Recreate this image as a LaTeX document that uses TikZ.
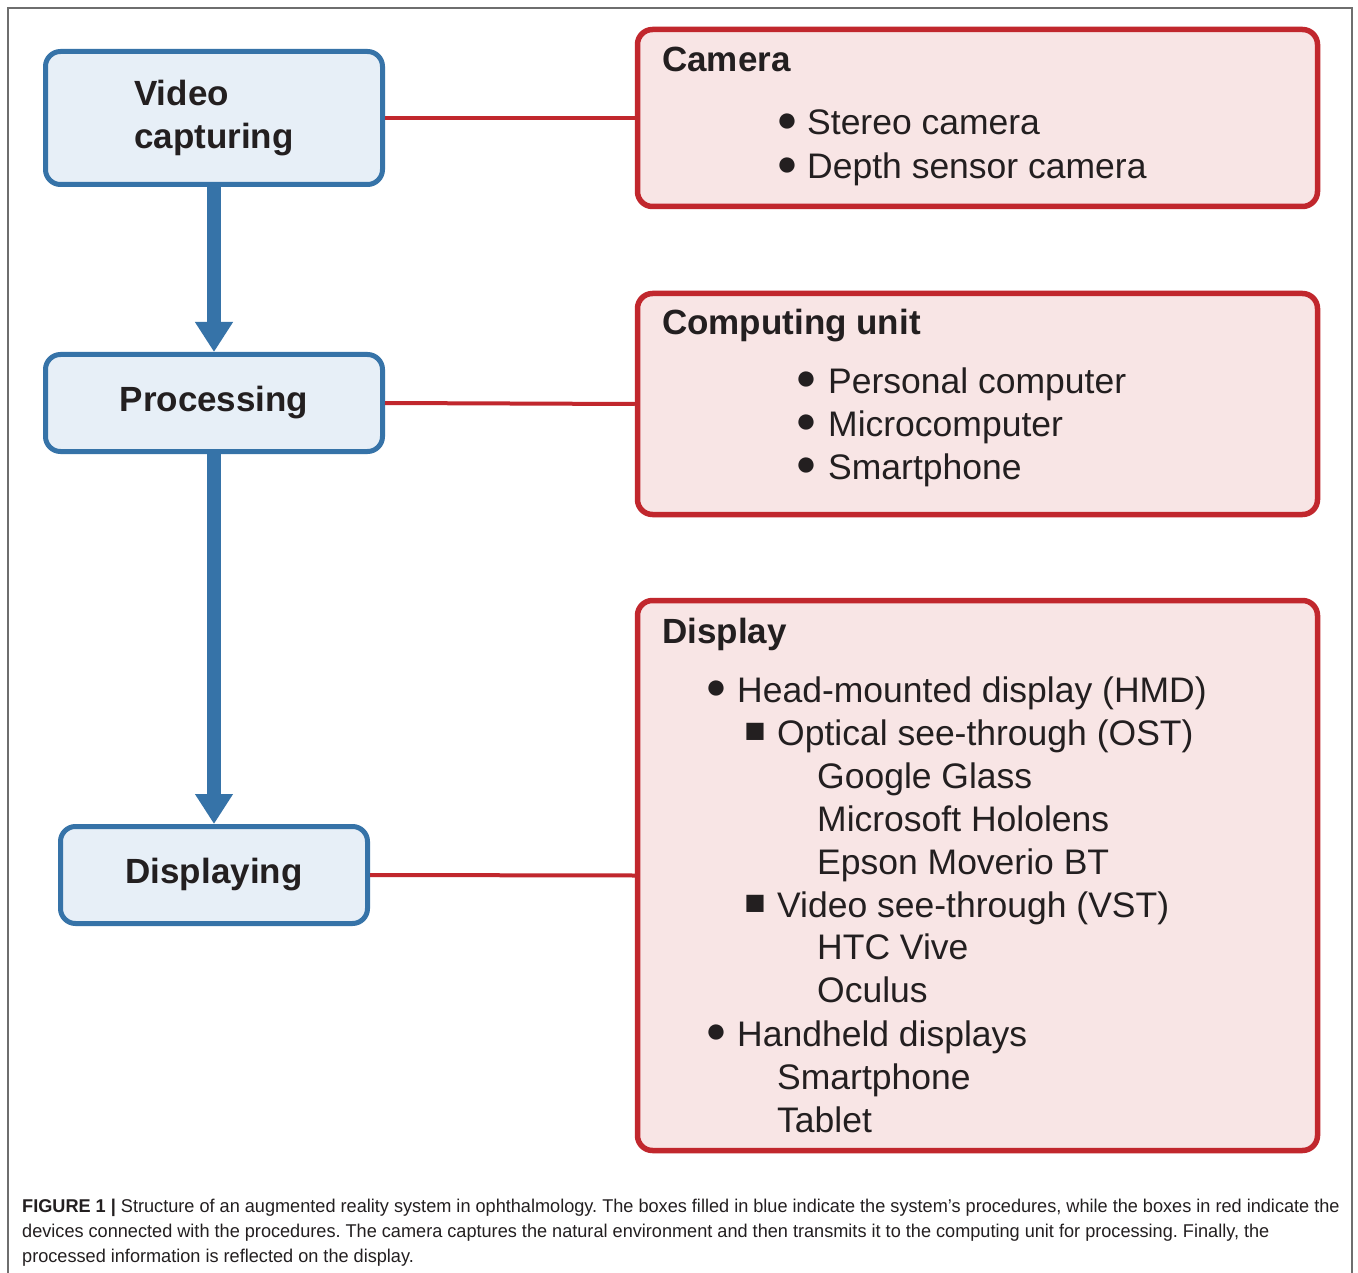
\documentclass[tikz,border=0pt]{standalone}
\usepackage{fontspec}
\setmainfont{Liberation Sans}
\newfontfamily\capfont[FakeStretch=0.98]{Liberation Sans}
\usetikzlibrary{arrows.meta}
\frenchspacing

\definecolor{stepblue}{RGB}{54,115,168}
\definecolor{stepfill}{RGB}{231,239,247}
\definecolor{devred}{RGB}{193,39,45}
\definecolor{devfill}{RGB}{248,229,229}
\definecolor{ink}{RGB}{35,31,32}
\definecolor{framegray}{RGB}{110,110,110}

\tikzset{
  procbox/.style={draw=stepblue, fill=stepfill, line width=5pt, rounded corners=15pt,
    inner sep=0pt, text=ink, align=left, font=\fontsize{35}{43}\selectfont\bfseries},
  devbox/.style={draw=devred, fill=devfill, line width=5.5pt, rounded corners=15pt,
    inner sep=0pt, minimum width=680pt},
  flow/.style={draw=stepblue, line width=14pt, -{Triangle[width=36pt,length=30pt]}},
  link/.style={draw=devred, line width=4pt},
  title/.style={anchor=base west, inner sep=0pt, text=ink, font=\fontsize{35}{42}\selectfont\bfseries},
  item/.style={anchor=base west, inner sep=0pt, text=ink, font=\fontsize{35.5}{42}\selectfont},
  bulletmark/.style={anchor=center, inner sep=0pt, text=ink, font=\fontsize{35.5}{42}\selectfont},
  captext/.style={anchor=base west, inner sep=0pt, text=ink, font=\fontsize{18.5}{25}\capfont},
}

\begin{document}
\begin{tikzpicture}[x=1pt, y=-1pt]
\useasboundingbox (0,0) rectangle (1358,1273);
\fill[white] (0,0) rectangle (1358,1273);
\draw[framegray, line width=1.5pt] (8,1273) -- (8,8) -- (1352,8) -- (1352,1273);

% procedure boxes
\node[procbox, minimum width=337pt, minimum height=133pt] (vid) at (214,118) {Video\\capturing};
\node[procbox, minimum width=337pt, minimum height=97pt] (proc) at (214,403) {Processing};
\node[procbox, minimum width=307pt, minimum height=97pt] (disp) at (214,875) {Displaying};

% device boxes
\node[devbox, minimum height=177pt] (cam) at (977.5,118) {};
\node[devbox, minimum height=221pt] (comp) at (977.5,404) {};
\node[devbox, minimum height=550pt] (dev) at (977.5,875.5) {};

% connectors
\draw[flow] (vid.south) -- (proc.north);
\draw[flow] (proc.south) -- (disp.north);
\draw[link] (vid.east) -- (cam.west);
\draw[link] (proc.east) -- (comp.west);
\draw[link] (disp.east) -- (dev.west);

% camera
\node[title] (camT) at (662,72) {Camera};
\node[bulletmark] (camB1) at (787,123) {●};
\node[item] (camI1) at (807,135) {Stereo camera};
\node[bulletmark] (camB2) at (787,167) {●};
\node[item] (camI2) at (807,179) {Depth sensor camera};

% computing unit
\node[title] (compT) at (662,335) {Computing unit};
\node[bulletmark] (compB1) at (806,381) {●};
\node[item] (compI1) at (828,393) {Personal computer};
\node[bulletmark] (compB2) at (806,424) {●};
\node[item] (compI2) at (828,436) {Microcomputer};
\node[bulletmark] (compB3) at (806,467) {●};
\node[item] (compI3) at (828,479) {Smartphone};

% display
\node[title] (devT) at (662,643) {Display};
\node[bulletmark] (devB1) at (716,690) {●};
\node[item] (devI1) at (737,702) {Head-mounted display (HMD)};
\node[bulletmark] (devS1) at (755,733) {■};
\node[item] (devI2) at (777,745) {Optical see-through (OST)};
\node[item] (devI3) at (817,788) {Google Glass};
\node[item] (devI4) at (817,831) {Microsoft Hololens};
\node[item] (devI5) at (817,874) {Epson Moverio BT};
\node[bulletmark] (devS2) at (755,905) {■};
\node[item] (devI6) at (777,917) {Video see-through (VST)};
\node[item] (devI7) at (817,959) {HTC Vive};
\node[item] (devI8) at (817,1002) {Oculus};
\node[bulletmark] (devB2) at (716,1034) {●};
\node[item] (devI9) at (737,1046) {Handheld displays};
\node[item] (devI10) at (777,1089) {Smartphone};
\node[item] (devI11) at (777,1132) {Tablet};

% caption
\node[captext] (cap1) at (22,1212) {\textbf{FIGURE 1 |} Structure of an augmented reality system in ophthalmology. The boxes filled in blue indicate the system’s procedures, while the boxes in red indicate the};
\node[captext] (cap2) at (22,1237) {devices connected with the procedures. The camera captures the natural environment and then transmits it to the computing unit for processing. Finally, the};
\node[captext] (cap3) at (22,1262) {processed information is reflected on the display.};
\end{tikzpicture}
\end{document}
